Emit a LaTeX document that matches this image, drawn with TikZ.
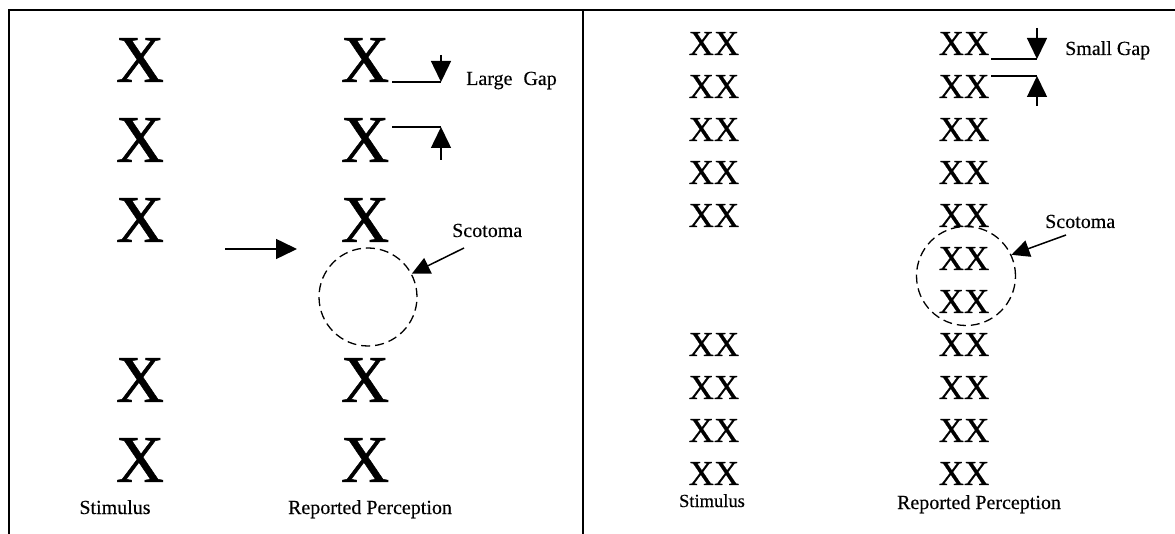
\documentclass[tikz,border=0pt]{standalone}
\usepackage{fontspec}
\setmainfont{Liberation Serif}
\newfontfamily\heavyx[FakeBold=0.8]{Liberation Serif}
\newfontfamily\heavyxx[FakeBold=0.6]{Liberation Serif}
\newfontfamily\heavylbl[FakeBold=0.3]{Liberation Serif}
\usetikzlibrary{arrows.meta}
\begin{document}
\begin{tikzpicture}[x=1pt,y=-1pt,
  bigx/.style={inner sep=0pt, font=\heavyx\fontsize{67}{67}\selectfont},
  dblx/.style={inner sep=0pt, font=\heavyxx\fontsize{35}{35}\selectfont},
  lbl/.style={inner sep=0pt, font=\heavylbl\fontsize{20}{20}\selectfont},
  slbl/.style={inner sep=0pt, font=\heavylbl\fontsize{18.5}{18.5}\selectfont},
  frame/.style={line width=2pt},
  conn/.style={line width=1.5pt},
  tri/.style={conn, -{Triangle[length=21pt,width=20pt]}},
  scarrow/.style={conn, -{Triangle[length=18pt,width=17pt]}},
  ring/.style={draw, circle, dash pattern=on 9pt off 5pt, line width=1.3pt, inner sep=0pt}]
\useasboundingbox (0,0) rectangle (1175,534);
% frame
\draw[frame] (9,534) -- (9,10) -- (1175,10);
\draw[frame] (583,10) -- (583,534);
% left panel
\foreach \i/\y in {1/60,2/140,3/220,4/380,5/460} {
  \node[bigx] (sL\i) at (140,\y) {X};
  \node[bigx] (pL\i) at (365,\y) {X};
}
\node[ring, minimum size=98pt] (scL) at (368,297) {};
\coordinate (ha1) at (225,249);
\coordinate (ha2) at (297,249);
\draw[tri] (ha1) -- (ha2);
\coordinate (gL1) at (441,82);
\coordinate (gL1t) at (441,55);
\draw[conn] ([xshift=3pt]gL1 -| pL1.east) -- (gL1);
\draw[tri] (gL1t) -- (gL1);
\coordinate (gL2) at (441,127);
\coordinate (gL2b) at (441,160);
\draw[conn] ([xshift=3pt]gL2 -| pL2.east) -- (gL2);
\draw[tri] (gL2b) -- (gL2);
\node[lbl, anchor=base west] (lg) at (466,85) {Large\hspace{0.3em} Gap};
\node[lbl, anchor=base west] (scLt) at (452,237) {Scotoma};
\coordinate (scLa) at (464,248);
\draw[scarrow] (scLa) -- (scL.28);
\node[lbl, anchor=base] (stL) at (115,514) {Stimulus};
\node[lbl, anchor=base] (rpL) at (370,514) {Reported Perception};
% right panel
\foreach \i in {0,...,10} {
  \node[dblx] (pR\i) at (964,{43.5+43*\i}) {XX};
}
\foreach \i in {0,1,2,3,4,7,8,9,10} {
  \node[dblx] (sR\i) at (714,{43.5+43*\i}) {XX};
}
\node[ring, minimum width=99pt, minimum height=96pt] (scR) at (966,276) {};
\coordinate (gR1) at (1037,59);
\coordinate (gR1t) at (1037,28);
\draw[conn] ([xshift=2pt]gR1 -| pR0.east) -- (gR1);
\draw[tri] (gR1t) -- (gR1);
\coordinate (gR2) at (1037,76);
\coordinate (gR2b) at (1037,106);
\draw[conn] ([xshift=2pt]gR2 -| pR1.east) -- (gR2);
\draw[tri] (gR2b) -- (gR2);
\node[lbl, anchor=base west] (sg) at (1065,55) {Small Gap};
\node[lbl, anchor=base west] (scRt) at (1045,228) {Scotoma};
\coordinate (scRa) at (1066,235);
\draw[scarrow] (scRa) -- (scR.25);
\node[slbl, anchor=base] (stR) at (712,507) {Stimulus};
\node[lbl, anchor=base] (rpR) at (979,509) {Reported Perception};
\end{tikzpicture}
\end{document}
